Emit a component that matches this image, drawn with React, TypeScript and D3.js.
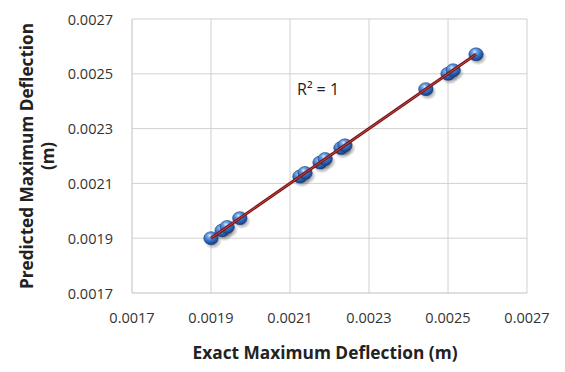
import React from "react";
import * as d3 from "d3";

const exactValues = [0.0019, 0.001928, 0.001941, 0.001973, 0.002125, 0.002138, 0.002176, 0.002189, 0.002229, 0.002239, 0.002444, 0.0025, 0.002513, 0.002571];
const predictedValues = [0.0019, 0.001928, 0.001941, 0.001973, 0.002125, 0.002138, 0.002176, 0.002189, 0.002229, 0.002239, 0.002444, 0.0025, 0.002513, 0.002571];
const tickValues = [0.0017, 0.0019, 0.0021, 0.0023, 0.0025, 0.0027];
const xTitle = "Exact Maximum Deflection (m)";
const yTitleLines = ["Predicted Maximum Deflection", "(m)"];
const r2Label = "R² = 1";

export default function App() {
  const W = 565, H = 372;
  const x = d3.scaleLinear().domain([0.0017, 0.0027]).range([132, 527]);
  const y = d3.scaleLinear().domain([0.0017, 0.0027]).range([293, 19]);
  const pts = exactValues.map((v, i) => ({ x: v, y: predictedValues[i] }));
  const reg = d3.extent(exactValues) as [number, number];
  const line = d3.line<[number, number]>().x(d => x(d[0])).y(d => y(d[1]));
  const trend = line([[reg[0], reg[0]], [reg[1], reg[1]]]) || "";
  const font = "'Open Sans', 'Noto Sans', sans-serif";
  return (
    <svg width={W} height={H} style={{ position: "absolute", left: 0, top: 0, background: "#fff" }} fontFamily={font}>
      <defs>
        <radialGradient id="ball" cx="0.4" cy="0.3" r="0.72">
          <stop offset="0" stopColor="#e4f0ff" />
          <stop offset="0.22" stopColor="#73a6e6" />
          <stop offset="0.6" stopColor="#2f6cc0" />
          <stop offset="1" stopColor="#163a78" />
        </radialGradient>
        <radialGradient id="shadow" cx="0.5" cy="0.5" r="0.5">
          <stop offset="0" stopColor="#000" stopOpacity="0.6" />
          <stop offset="1" stopColor="#000" stopOpacity="0" />
        </radialGradient>
      </defs>
      {tickValues.map(t => (
        <line key={"gx" + t} x1={x(t)} x2={x(t)} y1={y(0.0017)} y2={y(0.0027)} stroke={t === 0.0017 ? "#bfbfbf" : "#d0d0d0"} strokeWidth={1} />
      ))}
      {tickValues.map(t => (
        <line key={"gy" + t} x1={x(0.0017)} x2={x(0.0027)} y1={y(t)} y2={y(t)} stroke={t === 0.0017 ? "#bfbfbf" : "#d0d0d0"} strokeWidth={1} />
      ))}
      {tickValues.map(t => (
        <text key={"tx" + t} x={x(t)} y={323} textAnchor="middle" fontSize={14.5} fill="#333">{t.toFixed(4)}</text>
      ))}
      {tickValues.map(t => (
        <text key={"ty" + t} x={113} y={y(t) + 5.5} textAnchor="end" fontSize={14.5} fill="#333">{t.toFixed(4)}</text>
      ))}
      {pts.map((p, i) => (
        <ellipse key={"s" + i} cx={x(p.x) + 2} cy={y(p.y) + 3} rx={9} ry={8} fill="url(#shadow)" />
      ))}
      {pts.map((p, i) => (
        <ellipse key={"b" + i} cx={x(p.x)} cy={y(p.y)} rx={7.2} ry={6.5} fill="url(#ball)" stroke="#173f7d" strokeWidth={0.6} />
      ))}
      <path d={trend} stroke="#7a1414" strokeWidth={3} fill="none" />
      <path d={trend} stroke="#c24a4a" strokeWidth={1} fill="none" />
      <text x={297} y={95} fontSize={16} fill="#222">{r2Label}</text>
      <text x={325} y={359} textAnchor="middle" fontSize={17} fontWeight="bold" fill="#222" textLength={265} lengthAdjust="spacingAndGlyphs">{xTitle}</text>
      <text transform="translate(33,156) rotate(-90)" textAnchor="middle" fontSize={17} fontWeight="bold" fill="#222" textLength={266} lengthAdjust="spacingAndGlyphs">{yTitleLines[0]}</text>
      <text transform="translate(54,156) rotate(-90)" textAnchor="middle" fontSize={17} fontWeight="bold" fill="#222">{yTitleLines[1]}</text>
    </svg>
  );
}
